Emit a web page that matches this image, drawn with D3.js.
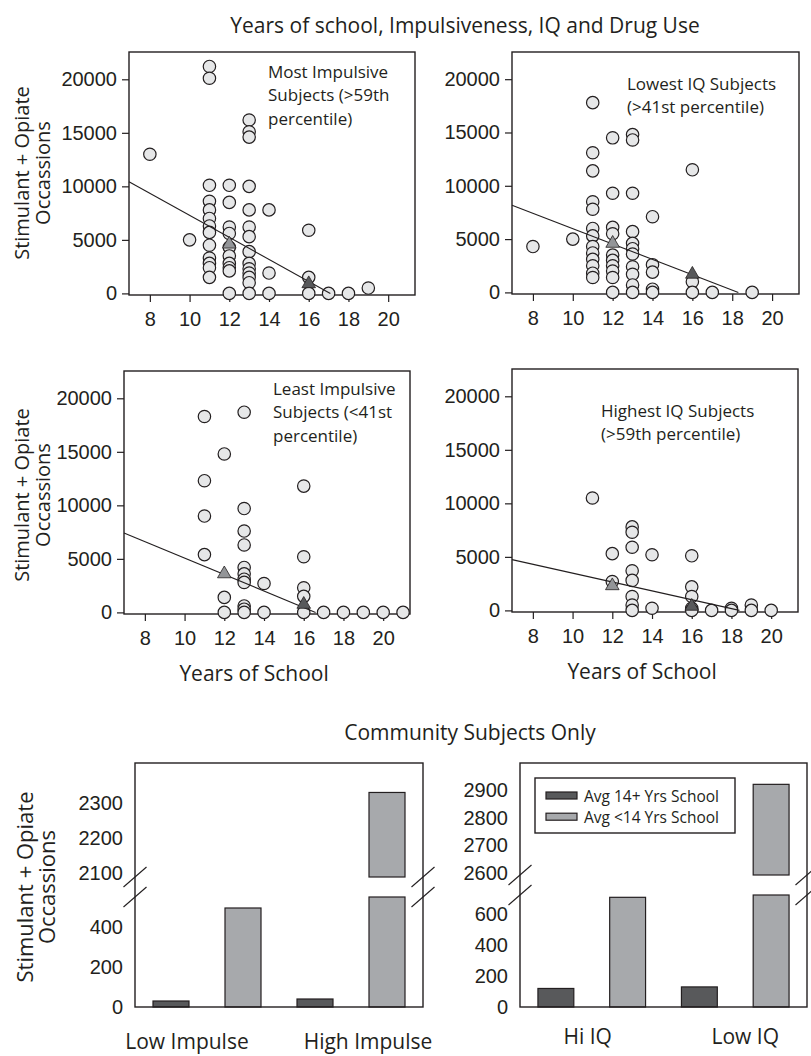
<!DOCTYPE html>
<html>
<head>
<meta charset="utf-8">
<script src="https://cdn.jsdelivr.net/npm/d3@7"></script>
<style>
  body { margin: 0; background: #fff; }
  svg { display: block; font-family: "Open Sans", sans-serif; }
  text { fill: #231f20; }
  .axis text { font-size: 20px; }
  .axis line { stroke: #231f20; stroke-width: 1.2; }
  .frame { fill: none; stroke: #231f20; stroke-width: 1.4; }
  .note { font-size: 17px; }
  .label { font-size: 21px; }
  .ylab { font-size: 20px; }
  .title { font-size: 21px; }
  .dot { fill: #e6e7e8; stroke: #231f20; stroke-width: 1.2; }
  .fit { stroke: #231f20; stroke-width: 1.1; fill: none; }
  .tri { stroke: #231f20; stroke-width: 0.8; }
  .bar { stroke: #231f20; stroke-width: 1.2; }
  .brk { stroke: #231f20; stroke-width: 1.1; }
</style>
</head>
<body>
<svg id="chart" width="811" height="1056"></svg>
<script>
// tick labels
var yearTicks = [8, 10, 12, 14, 16, 18, 20];
var occasionTicks = [0, 5000, 10000, 15000, 20000];

// [years of school, stimulant + opiate occasions]
var mostImpulsive = [
  [8, 13000], [10, 5000],
  [11, 21200], [11, 20100], [11, 10100], [11, 8600], [11, 7800], [11, 7000], [11, 6300],
  [11, 5700], [11, 4500], [11, 3300], [11, 2800], [11, 2400], [11, 1500],
  [12, 10100], [12, 8500], [12, 6200], [12, 5600], [12, 4300], [12, 3500], [12, 2800],
  [12, 2400], [12, 2100], [12, 0],
  [13, 16200], [13, 15100], [13, 14600], [13, 10000], [13, 7800], [13, 6200], [13, 5300],
  [13, 3900], [13, 2800], [13, 2300], [13, 1900], [13, 1500], [13, 1000], [13, 0],
  [14, 7800], [14, 1900], [14, 0],
  [16, 5900], [16, 1500], [16, 0],
  [17, 0], [18, 0], [19, 500]
];
var lowestIQ = [
  [8, 4300], [10, 5000],
  [11, 17800], [11, 13100], [11, 11400], [11, 8500], [11, 7800], [11, 6000], [11, 5300],
  [11, 4300], [11, 3700], [11, 3100], [11, 2500], [11, 1800], [11, 1400],
  [12, 14500], [12, 9300], [12, 6100], [12, 5500], [12, 3500], [12, 3000], [12, 2500],
  [12, 2000], [12, 1400], [12, 0],
  [13, 14800], [13, 14300], [13, 9300], [13, 5700], [13, 4600], [13, 4100], [13, 3600],
  [13, 2400], [13, 1700], [13, 700], [13, 0],
  [14, 7100], [14, 2600], [14, 1900], [14, 300], [14, 0],
  [16, 11500], [16, 1000], [16, 0],
  [17, 0], [19, 0]
];
var leastImpulsive = [
  [11, 18300], [11, 12300], [11, 9000], [11, 5400],
  [12, 14800], [12, 1400], [12, 0],
  [13, 18700], [13, 9700], [13, 7600], [13, 6300], [13, 4200], [13, 3600], [13, 3100],
  [13, 2800], [13, 600], [13, 300], [13, 0],
  [14, 2700], [14, 0],
  [16, 11800], [16, 5200], [16, 2300], [16, 1500], [16, 0],
  [17, 0], [18, 0], [19, 0], [20, 0], [21, 0]
];
var highestIQ = [
  [11, 10500],
  [12, 5300], [12, 2700],
  [13, 7800], [13, 7300], [13, 5900], [13, 3700], [13, 2800], [13, 1300], [13, 500], [13, 0],
  [14, 5200], [14, 200],
  [16, 5100], [16, 2200], [16, 1300], [16, 200], [16, 0],
  [17, 0], [18, 200], [18, 0], [19, 500], [19, 0], [20, 0]
];

// group means (triangles): 12 yrs and 16 yrs
var mostImpulsiveMeans = [[12, 4600], [16, 900]];
var lowestIQMeans = [[12, 4600], [16, 1700]];
var leastImpulsiveMeans = [[12, 3600], [16, 750]];
var highestIQMeans = [[12, 2300], [16, 380]];

// fitted lines: [intercept, slope]
var mostImpulsiveFit = [17566, -1028];
var lowestIQFit = [13163, -719];
var leastImpulsiveFit = [12763, -769];
var highestIQFit = [7618, -414];

var mostImpulsiveNote = ["Most Impulsive", "Subjects (>59th", "percentile)"];
var lowestIQNote = ["Lowest IQ Subjects", "(>41st percentile)"];
var leastImpulsiveNote = ["Least Impulsive", "Subjects (<41st", "percentile)"];
var highestIQNote = ["Highest IQ Subjects", "(>59th percentile)"];

// community subjects bars
var seriesNames = ["Avg 14+ Yrs School", "Avg <14 Yrs School"];
var impulseGroups = ["Low Impulse", "High Impulse"];
var impulseAbove14 = [30, 40];
var impulseBelow14 = [495, 2330];
var iqGroups = ["Hi IQ", "Low IQ"];
var iqAbove14 = [120, 130];
var iqBelow14 = [710, 2920];
var impulseLowTicks = [0, 200, 400];
var impulseHighTicks = [2100, 2200, 2300];
var iqLowTicks = [0, 200, 400, 600];
var iqHighTicks = [2600, 2700, 2800, 2900];

var COLORS = { dark: "#58595b", mid: "#939598", light: "#a7a9ac" };
var fmt = d3.format("d");

var svg = d3.select("#chart");

svg.append("text").attr("class", "title")
  .attr("x", 465).attr("y", 33).attr("text-anchor", "middle")
  .text("Years of school, Impulsiveness, IQ and Drug Use");

var yearDomain = [6.95, 21.35];
var occDomain = [-150, 22550];

var drawYLabel = function(cx, cy, size, gap) {
  var t = svg.append("text").attr("class", "ylab")
    .style("font-size", size + "px")
    .attr("transform", "translate(" + cx + "," + cy + ") rotate(-90)")
    .attr("text-anchor", "middle");
  t.append("tspan").attr("x", 0).attr("y", 0).text("Stimulant + Opiate");
  t.append("tspan").attr("x", 0).attr("y", gap).text("Occassions");
};

var drawScatter = function(p) {
  var f = p.frame;
  var g = svg.append("g").attr("transform", "translate(" + f.x + "," + f.y + ")");
  var x = d3.scaleLinear().domain(yearDomain).range([0, f.w]);
  var y = d3.scaleLinear().domain(occDomain).range([f.h, 0]);

  g.append("g").attr("class", "axis")
    .attr("transform", "translate(0," + f.h + ")")
    .call(d3.axisBottom(x).tickValues(yearTicks).tickSize(7).tickPadding(10).tickSizeOuter(0))
    .call(s => s.select(".domain").remove());

  g.append("g").attr("class", "axis")
    .call(d3.axisLeft(y).tickValues(occasionTicks).tickFormat(fmt)
      .tickSize(7).tickPadding(5).tickSizeOuter(0))
    .call(s => s.select(".domain").remove());

  g.append("rect").attr("class", "frame").attr("width", f.w).attr("height", f.h);

  g.append("g").selectAll("circle")
    .data(p.points).enter().append("circle")
    .attr("class", "dot")
    .attr("cx", d => x(d[0]))
    .attr("cy", d => y(d[1]))
    .attr("r", 6.2);

  var a = p.fit[0], b = p.fit[1];
  var xEnd = Math.min(yearDomain[1], -a / b);
  g.append("path").attr("class", "fit")
    .attr("d", d3.line().x(d => x(d)).y(d => y(a + b * d))([yearDomain[0], xEnd]));

  g.append("g").selectAll("path")
    .data(p.means).enter().append("path")
    .attr("class", "tri")
    .attr("fill", (d, i) => i === 0 ? COLORS.mid : COLORS.dark)
    .attr("transform", d => "translate(" + x(d[0]) + "," + y(d[1]) + ")")
    .attr("d", d3.symbol(d3.symbolTriangle, 80));

  p.note.forEach(function(line, i) {
    g.append("text").attr("class", "note")
      .attr("x", p.noteX).attr("y", p.noteY + i * 23.3).text(line);
  });

  if (p.xLabel) {
    svg.append("text").attr("class", "label").attr("text-anchor", "middle")
      .attr("x", f.x + x(13.5)).attr("y", f.y + f.h + 67).text("Years of School");
  }
};

drawScatter({ points: mostImpulsive, means: mostImpulsiveMeans, fit: mostImpulsiveFit,
  note: mostImpulsiveNote, noteX: 139, noteY: 26,
  frame: { x: 129, y: 52, w: 286, h: 243 } });
drawScatter({ points: lowestIQ, means: lowestIQMeans, fit: lowestIQFit,
  note: lowestIQNote, noteX: 115, noteY: 37.5,
  frame: { x: 512, y: 52, w: 287, h: 242 } });
drawScatter({ points: leastImpulsive, means: leastImpulsiveMeans, fit: leastImpulsiveFit,
  note: leastImpulsiveNote, noteX: 149, noteY: 24, xLabel: true,
  frame: { x: 124, y: 371, w: 286, h: 243 } });
drawScatter({ points: highestIQ, means: highestIQMeans, fit: highestIQFit,
  note: highestIQNote, noteX: 89, noteY: 48, xLabel: true,
  frame: { x: 512, y: 369, w: 286, h: 243 } });

drawYLabel(29, 173, 20, 21);
drawYLabel(29, 495, 20, 21);

// bar charts with a broken y axis
svg.append("text").attr("class", "title")
  .attr("x", 470).attr("y", 740).attr("text-anchor", "middle")
  .text("Community Subjects Only");

var drawBars = function(c) {
  var f = c.frame;
  var g = svg.append("g").attr("transform", "translate(" + f.x + "," + f.y + ")");
  var idx = d3.range(c.groups.length * 2);
  var x = d3.scaleBand().domain(idx).range([0, f.w]).paddingInner(0.5).paddingOuter(0.25);
  var yLow = d3.scaleLinear().domain([0, c.lowMax]).range([f.h, c.lowTop]);
  var yHigh = d3.scaleLinear().domain([c.highMin, c.highMax]).range([c.highBottom, 0]);

  g.append("g").attr("class", "axis")
    .call(d3.axisLeft(yLow).tickValues(c.lowTicks).tickFormat(fmt).tickSize(0).tickPadding(12))
    .call(s => s.select(".domain").remove());
  g.append("g").attr("class", "axis")
    .call(d3.axisLeft(yHigh).tickValues(c.highTicks).tickFormat(fmt).tickSize(0).tickPadding(12))
    .call(s => s.select(".domain").remove());

  var bars = [];
  c.groups.forEach(function(name, i) {
    bars.push({ i: 2 * i, v: c.above[i], color: COLORS.dark });
    bars.push({ i: 2 * i + 1, v: c.below[i], color: COLORS.light });
  });

  bars.forEach(function(d) {
    var top = Math.min(d.v, c.lowMax);
    g.append("rect").attr("class", "bar").attr("fill", d.color)
      .attr("x", x(d.i)).attr("width", x.bandwidth())
      .attr("y", yLow(top)).attr("height", yLow(0) - yLow(top));
    if (d.v > c.lowMax) {
      g.append("rect").attr("class", "bar").attr("fill", d.color)
        .attr("x", x(d.i)).attr("width", x.bandwidth())
        .attr("y", yHigh(d.v)).attr("height", yHigh(c.highMin) - yHigh(d.v));
    }
  });

  g.append("rect").attr("class", "frame").attr("width", f.w).attr("height", f.h);

  // break marks on both sides
  [0, f.w].forEach(function(ex) {
    [yHigh(c.highMin), yLow(c.lowMax)].forEach(function(ey) {
      g.append("line").attr("class", "brk")
        .attr("x1", ex - 11.5).attr("y1", ey + 10)
        .attr("x2", ex + 11.5).attr("y2", ey - 10);
    });
  });

  g.append("g").selectAll("text")
    .data(c.groups).enter().append("text")
    .attr("class", "label").attr("text-anchor", "middle")
    .attr("x", (d, i) => (x(2 * i) + x(2 * i + 1) + x.bandwidth()) / 2 + c.labelShift[i])
    .attr("y", f.h + c.labelDrop)
    .text(d => d);

  if (c.legend) {
    var lg = g.append("g").attr("transform", "translate(15,15)");
    lg.append("rect").attr("class", "frame").attr("width", 200).attr("height", 55);
    seriesNames.forEach(function(name, i) {
      lg.append("rect").attr("class", "bar")
        .attr("fill", i === 0 ? COLORS.dark : COLORS.light)
        .attr("x", 11).attr("y", 14 + i * 21.2).attr("width", 31).attr("height", 7);
      lg.append("text").attr("x", 49).attr("y", 23.5 + i * 21.2)
        .style("font-size", "15.5px").text(name);
    });
  }
};

drawBars({ groups: impulseGroups, above: impulseAbove14, below: impulseBelow14,
  lowTicks: impulseLowTicks, highTicks: impulseHighTicks,
  lowMax: 550, lowTop: 134, highMin: 2089, highMax: 2414, highBottom: 114,
  labelShift: [-20, 17], labelDrop: 42,
  frame: { x: 135, y: 763, w: 288, h: 244 } });
drawBars({ groups: iqGroups, above: iqAbove14, below: iqBelow14,
  lowTicks: iqLowTicks, highTicks: iqHighTicks,
  lowMax: 725, lowTop: 132, highMin: 2593, highMax: 2997, highBottom: 112, legend: true,
  labelShift: [-4, 10], labelDrop: 37,
  frame: { x: 520, y: 763, w: 287, h: 244 } });

drawYLabel(33, 887, 22, 22);
</script>
</body>
</html>
